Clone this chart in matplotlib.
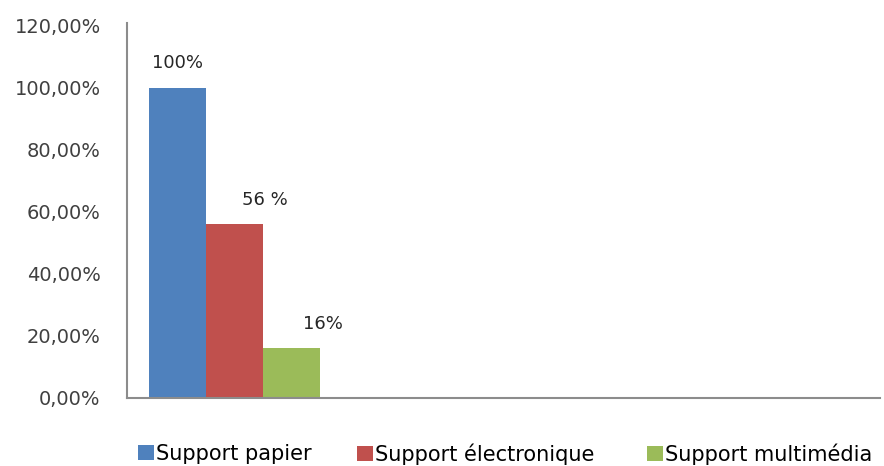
import matplotlib.pyplot as plt
from matplotlib.ticker import FuncFormatter

# Share of each medium
supports = ["Support papier", "Support électronique", "Support multimédia"]
values = [100, 56, 16]
value_labels = ["100%", "56 %", "16%"]
colors = ["#4F81BD", "#C0504D", "#9BBB59"]
y_ticks = [0, 20, 40, 60, 80, 100, 120]

fig = plt.figure(figsize=(8.84, 4.66), dpi=100)
ax = fig.add_axes([0.1437, 0.146, 0.852, 0.805])

positions = list(range(len(values)))
bars = ax.bar(positions, values, width=1.0, color=colors)

# value labels above the bars (the later ones sit a little to the right)
label_shift = [0.0, 0.53, 0.55]
for pos, val, txt, dx in zip(positions, values, value_labels, label_shift):
    ax.text(pos + dx, val + 5, txt, ha="center", va="bottom",
            fontsize=13, color="#262626")

ax.set_xlim(-0.886, 12.32)
ax.set_ylim(0, 121)
ax.set_yticks(y_ticks)
ax.yaxis.set_major_formatter(FuncFormatter(lambda v, _: f"{v:.2f}".replace(".", ",") + "%"))
ax.set_xticks([])
ax.tick_params(axis="y", length=0, pad=19, labelsize=14, labelcolor="#404040")

for side in ("top", "right"):
    ax.spines[side].set_visible(False)
for side in ("left", "bottom"):
    ax.spines[side].set_color("#8C8C8C")
    ax.spines[side].set_linewidth(1.5)

# one legend entry per box so each can sit at its own spot along the bottom
legend_x = [0.156, 0.404, 0.732]
for bar, name, lx in zip(bars, supports, legend_x):
    fig.legend([bar], [name], loc="center left", bbox_to_anchor=(lx, 0.026),
               frameon=False, handlelength=0.75, handleheight=0.75,
               handletextpad=0.1, borderpad=0, borderaxespad=0,
               prop={"size": 15})

fig.savefig("out.png", dpi=100)
plt.close(fig)
